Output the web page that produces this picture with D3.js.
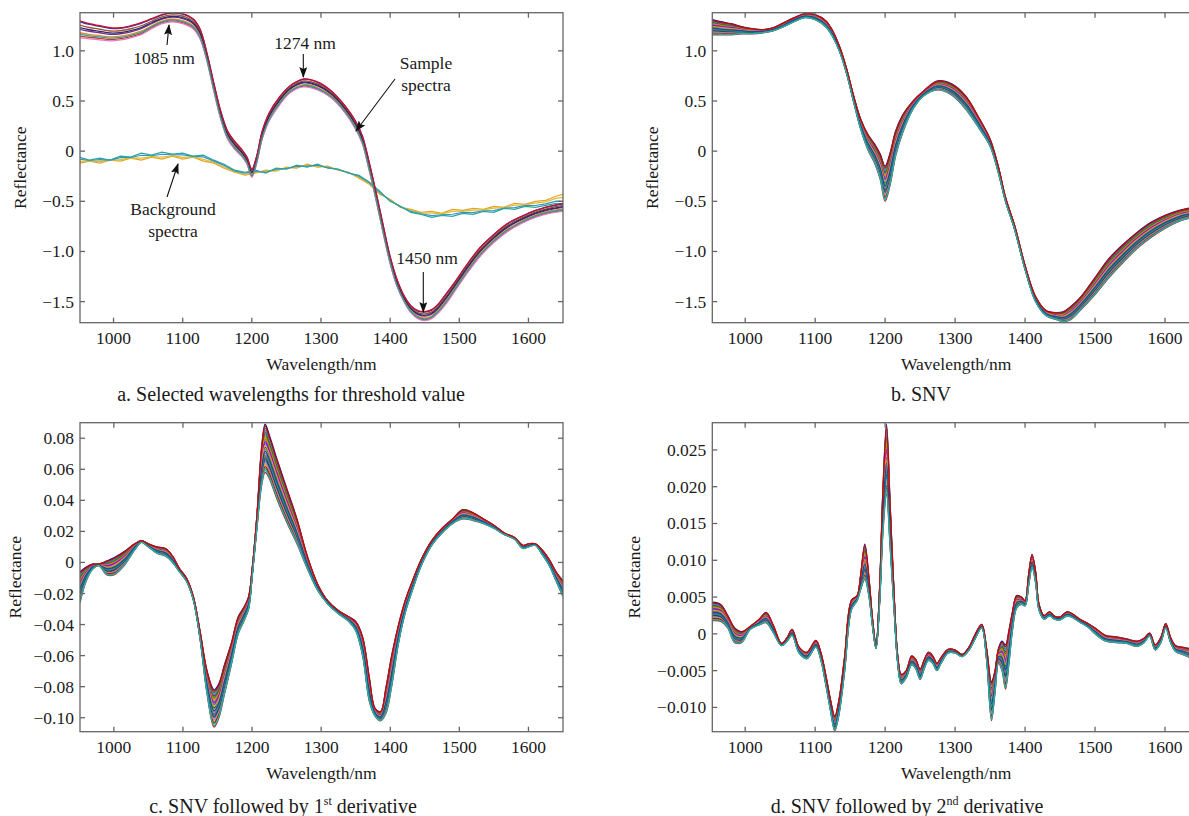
<!DOCTYPE html>
<html>
<head>
<meta charset="UTF-8" />
<title>Spectra</title>
<script src="https://d3js.org/d3.v7.min.js"></script>
<style>
  body { margin: 0; background: #fff; }
</style>
</head>
<body>
<div id="chart"></div>
<script>
// ---- data ----
const xTicks = [1000, 1100, 1200, 1300, 1400, 1500, 1600];
const yTicksAB = [-1.5, -1.0, -0.5, 0, 0.5, 1.0];
const yTicksC = [-0.10, -0.08, -0.06, -0.04, -0.02, 0, 0.02, 0.04, 0.06, 0.08];
const yTicksD = [-0.010, -0.005, 0, 0.005, 0.010, 0.015, 0.020, 0.025];

// a: sample spectra band (upper / lower)
const wlA = [951, 965, 980, 995, 1010, 1025, 1040, 1055, 1070, 1085, 1100, 1115, 1125, 1135, 1145, 1155, 1165, 1175, 1185, 1193, 1200, 1207, 1215, 1225, 1240, 1255, 1275, 1295, 1315, 1335, 1350, 1360, 1370, 1380, 1390, 1400, 1410, 1420, 1430, 1440, 1450, 1460, 1470, 1480, 1495, 1510, 1530, 1550, 1570, 1590, 1610, 1630, 1650];
const aHi = [1.30, 1.27, 1.25, 1.23, 1.23, 1.25, 1.28, 1.32, 1.36, 1.38, 1.37, 1.32, 1.22, 0.98, 0.68, 0.40, 0.20, 0.10, 0.02, -0.06, -0.18, -0.05, 0.20, 0.38, 0.54, 0.65, 0.72, 0.69, 0.60, 0.45, 0.30, 0.15, -0.12, -0.42, -0.74, -1.05, -1.28, -1.44, -1.54, -1.59, -1.60, -1.58, -1.52, -1.43, -1.29, -1.14, -0.96, -0.83, -0.72, -0.65, -0.59, -0.55, -0.52];
const aLo = [1.13, 1.12, 1.11, 1.10, 1.11, 1.13, 1.16, 1.22, 1.27, 1.29, 1.27, 1.22, 1.12, 0.90, 0.60, 0.32, 0.12, 0.02, -0.05, -0.13, -0.26, -0.12, 0.12, 0.30, 0.46, 0.58, 0.64, 0.61, 0.53, 0.38, 0.22, 0.07, -0.20, -0.50, -0.82, -1.12, -1.35, -1.50, -1.61, -1.67, -1.69, -1.67, -1.61, -1.53, -1.38, -1.23, -1.05, -0.91, -0.80, -0.72, -0.66, -0.62, -0.60];
const sampleMix = [0.1, 0.95, 0.5, 0.3, 0.75, 0.0, 0.6, 1.0, 0.2];
const sampleColors = ["#c0392b", "#1f3fbf", "#7b2d8e", "#e8892b", "#a0522d", "#e377c2", "#2b2b6b", "#c8102e", "#3a9a8a"];

// a: background spectra (two groups)
const wlBg = [951, 965, 980, 995, 1010, 1025, 1040, 1055, 1070, 1085, 1100, 1115, 1130, 1145, 1160, 1175, 1190, 1205, 1220, 1235, 1250, 1265, 1280, 1295, 1310, 1325, 1340, 1355, 1370, 1385, 1400, 1415, 1430, 1445, 1460, 1475, 1490, 1505, 1520, 1535, 1550, 1565, 1580, 1595, 1610, 1625, 1640, 1650];
const bgOrange = [-0.06, -0.09, -0.07, -0.09, -0.05, -0.06, -0.02, -0.04, -0.01, -0.03, -0.02, -0.05, -0.04, -0.09, -0.13, -0.19, -0.21, -0.19, -0.22, -0.17, -0.18, -0.14, -0.16, -0.13, -0.17, -0.18, -0.22, -0.24, -0.31, -0.40, -0.50, -0.55, -0.61, -0.63, -0.66, -0.64, -0.65, -0.62, -0.63, -0.60, -0.61, -0.57, -0.58, -0.55, -0.56, -0.54, -0.52, -0.53];
const bgTeal = [-0.12, -0.10, -0.12, -0.09, -0.10, -0.07, -0.09, -0.06, -0.08, -0.05, -0.08, -0.06, -0.10, -0.12, -0.17, -0.21, -0.24, -0.22, -0.19, -0.20, -0.16, -0.17, -0.13, -0.16, -0.15, -0.19, -0.21, -0.27, -0.33, -0.43, -0.48, -0.56, -0.58, -0.61, -0.60, -0.62, -0.58, -0.59, -0.57, -0.58, -0.55, -0.56, -0.52, -0.53, -0.50, -0.49, -0.45, -0.43];
const bgMix = [0.0, 0.3, 0.7, 1.0];
const bgColors = ["#e8a020", "#d8c030", "#3a8fd0", "#2aa59a"];

// b: SNV
const wlB = [953, 965, 980, 995, 1010, 1025, 1040, 1055, 1070, 1085, 1100, 1115, 1125, 1135, 1145, 1155, 1165, 1175, 1185, 1193, 1200, 1207, 1215, 1225, 1240, 1255, 1275, 1295, 1315, 1335, 1350, 1362, 1372, 1385, 1400, 1415, 1430, 1445, 1455, 1465, 1480, 1500, 1520, 1540, 1560, 1580, 1600, 1620, 1640, 1650];
const bHi = [1.31, 1.29, 1.27, 1.24, 1.22, 1.21, 1.23, 1.28, 1.33, 1.37, 1.36, 1.30, 1.20, 1.04, 0.82, 0.55, 0.32, 0.17, 0.07, -0.03, -0.15, -0.02, 0.20, 0.36, 0.50, 0.60, 0.70, 0.67, 0.55, 0.32, 0.12, -0.16, -0.46, -0.74, -1.14, -1.45, -1.59, -1.61, -1.60, -1.55, -1.45, -1.26, -1.07, -0.93, -0.81, -0.71, -0.64, -0.59, -0.56, -0.55];
const bLo = [1.16, 1.16, 1.16, 1.17, 1.17, 1.18, 1.20, 1.24, 1.29, 1.33, 1.31, 1.24, 1.14, 0.99, 0.77, 0.49, 0.22, 0.02, -0.12, -0.28, -0.50, -0.34, -0.05, 0.18, 0.42, 0.55, 0.61, 0.56, 0.42, 0.22, 0.05, -0.22, -0.50, -0.78, -1.18, -1.50, -1.64, -1.68, -1.70, -1.68, -1.58, -1.43, -1.26, -1.11, -0.97, -0.86, -0.77, -0.70, -0.66, -0.64];

// c: SNV + 1st derivative
const wlC = [951, 960, 970, 978, 990, 1000, 1015, 1030, 1040, 1050, 1062, 1075, 1085, 1095, 1105, 1115, 1125, 1135, 1145, 1152, 1160, 1170, 1180, 1188, 1195, 1200, 1207, 1214, 1219, 1225, 1235, 1250, 1265, 1280, 1295, 1310, 1325, 1340, 1350, 1360, 1370, 1378, 1386, 1394, 1402, 1412, 1422, 1432, 1445, 1460, 1475, 1490, 1505, 1520, 1535, 1550, 1565, 1580, 1592, 1600, 1610, 1620, 1630, 1640, 1650];
const cHi = [-0.006, -0.003, -0.001, -0.001, 0.001, 0.003, 0.007, 0.012, 0.014, 0.012, 0.010, 0.009, 0.004, -0.004, -0.010, -0.022, -0.045, -0.070, -0.082, -0.078, -0.066, -0.052, -0.035, -0.029, -0.022, -0.005, 0.030, 0.075, 0.089, 0.082, 0.068, 0.048, 0.028, 0.004, -0.014, -0.025, -0.031, -0.035, -0.038, -0.048, -0.075, -0.094, -0.096, -0.080, -0.060, -0.040, -0.024, -0.012, 0.002, 0.014, 0.022, 0.028, 0.034, 0.032, 0.028, 0.024, 0.019, 0.016, 0.011, 0.012, 0.012, 0.008, 0.002, -0.006, -0.012];
const cLo = [-0.026, -0.012, -0.004, -0.002, -0.008, -0.008, -0.002, 0.008, 0.013, 0.010, 0.006, 0.004, 0.000, -0.006, -0.012, -0.024, -0.050, -0.085, -0.106, -0.100, -0.085, -0.066, -0.046, -0.038, -0.030, -0.010, 0.022, 0.050, 0.058, 0.054, 0.042, 0.026, 0.012, -0.004, -0.018, -0.027, -0.033, -0.038, -0.044, -0.060, -0.090, -0.099, -0.102, -0.097, -0.080, -0.052, -0.032, -0.018, -0.002, 0.011, 0.019, 0.025, 0.028, 0.027, 0.025, 0.022, 0.018, 0.015, 0.009, 0.010, 0.011, 0.005, -0.002, -0.012, -0.022];

// d: SNV + 2nd derivative
const wlD = [953, 965, 975, 985, 995, 1007, 1020, 1030, 1040, 1052, 1060, 1067, 1077, 1088, 1101, 1108, 1115, 1122, 1128, 1134, 1142, 1152, 1160, 1165, 1171, 1177, 1182, 1187, 1192, 1197, 1202, 1207, 1213, 1218, 1223, 1230, 1238, 1244, 1250, 1256, 1262, 1268, 1274, 1280, 1290, 1300, 1310, 1320, 1328, 1338, 1345, 1352, 1357, 1362, 1367, 1372, 1377, 1382, 1388, 1395, 1400, 1405, 1410, 1415, 1420, 1427, 1435, 1442, 1450, 1460, 1468, 1478, 1490, 1500, 1515, 1530, 1545, 1560, 1570, 1578, 1586, 1594, 1601, 1608, 1615, 1625, 1635, 1650];
const dHi = [0.0043, 0.0040, 0.0025, 0.0008, 0.0003, 0.0010, 0.0020, 0.0029, 0.0012, -0.0013, -0.0005, 0.0006, -0.0018, -0.0025, -0.0009, -0.0025, -0.0055, -0.0090, -0.0112, -0.0090, -0.0032, 0.0046, 0.0052, 0.0080, 0.0122, 0.0075, 0.0020, -0.0015, 0.0060, 0.0200, 0.0285, 0.0180, 0.0050, -0.0030, -0.0055, -0.0050, -0.0030, -0.0035, -0.0048, -0.0035, -0.0025, -0.0030, -0.0040, -0.0032, -0.0021, -0.0022, -0.0028, -0.0018, -0.0002, 0.0013, -0.0020, -0.0065, -0.0050, -0.0020, -0.0010, -0.0015, 0.0005, 0.0030, 0.0052, 0.0050, 0.0045, 0.0080, 0.0108, 0.0085, 0.0040, 0.0025, 0.0030, 0.0024, 0.0023, 0.0030, 0.0027, 0.0020, 0.0014, 0.0008, -0.0002, -0.0004, -0.0007, -0.0010, -0.0006, 0.0001, -0.0015, -0.0005, 0.0014, -0.0005, -0.0016, -0.0018, -0.0020, -0.0025];
const dLo = [0.0018, 0.0017, 0.0008, -0.0012, -0.0012, 0.0006, 0.0012, 0.0015, 0.0002, -0.0016, -0.0010, -0.0002, -0.0026, -0.0034, -0.0018, -0.0035, -0.0068, -0.0105, -0.0132, -0.0110, -0.0052, 0.0033, 0.0045, 0.0060, 0.0074, 0.0050, 0.0010, -0.0020, 0.0040, 0.0140, 0.0190, 0.0120, 0.0030, -0.0040, -0.0068, -0.0060, -0.0042, -0.0048, -0.0062, -0.0047, -0.0036, -0.0040, -0.0050, -0.0040, -0.0026, -0.0026, -0.0031, -0.0022, -0.0008, 0.0008, -0.0035, -0.0118, -0.0080, -0.0040, -0.0050, -0.0075, -0.0040, 0.0005, 0.0035, 0.0040, 0.0038, 0.0065, 0.0090, 0.0070, 0.0032, 0.0020, 0.0024, 0.0020, 0.0019, 0.0024, 0.0022, 0.0016, 0.0009, 0.0000, -0.0010, -0.0012, -0.0013, -0.0017, -0.0012, -0.0003, -0.0022, -0.0012, 0.0008, -0.0012, -0.0024, -0.0028, -0.0032, -0.0035];

// position of each spectrum inside the band, and its colour
const bandMix = [1.0, 0.0, 0.92, 0.08, 0.84, 0.16, 0.76, 0.24, 0.68, 0.32, 0.6, 0.4, 0.52, 0.48, 0.88, 0.12, 0.8, 0.2, 0.72, 0.28, 0.64, 0.36, 0.56, 0.44, 0.96, 0.04];
const bandColors = ["#1a1a8c", "#b3261e", "#2f8f2f", "#0fa3b1", "#7a1f7a", "#c8b400", "#e07020", "#2b5fd9", "#556b2f", "#8b4513", "#00a07a", "#d43f8d", "#333333", "#6aa84f", "#3d85c6", "#a61c00", "#38761d", "#c27ba0", "#bf9000", "#134f5c", "#9900ff", "#45818e", "#e69138", "#0b5394", "#cc0000", "#20b2aa"];

// ---- drawing ----
const W = 1189, H = 816;
const FS = 17.5;     // ticks, axis titles, notes
const CAP = 20;      // panel captions
const FONT = '"Liberation Serif"';
const svg = d3.select("#chart").append("svg")
  .attr("width", W).attr("height", H)
  .style("font-family", FONT);

const defs = svg.append("defs");
defs.append("marker")
  .attr("id", "arrow")
  .attr("markerUnits", "userSpaceOnUse")
  .attr("markerWidth", 11).attr("markerHeight", 8)
  .attr("refX", 10).attr("refY", 4)
  .attr("orient", "auto")
  .append("path").attr("d", "M0,0 L11,4 L0,8 L2,4 Z").attr("fill", "#111");

function band(wl, hi, lo, w) {
  return wl.map((n, i) => ({ x: n, y: lo[i] + w * (hi[i] - lo[i]) }));
}

function label(sel, size) {
  return sel.append("text").style("font-family", FONT).attr("font-size", size || FS).attr("fill", "#1a1a1a");
}

function panel(p) {
  const x = d3.scaleLinear().domain(p.xDom).range([p.left, p.right]);
  const y = d3.scaleLinear().domain(p.yDom).range([p.bottom, p.top]);
  const g = svg.append("g");

  defs.append("clipPath").attr("id", "clip" + p.id)
    .append("rect").attr("x", p.left).attr("y", p.top)
    .attr("width", p.right - p.left).attr("height", p.bottom - p.top);

  const lines = g.append("g").attr("clip-path", `url(#clip${p.id})`);
  const smooth = d3.line().x(d => x(d.x)).y(d => y(d.y)).curve(d3.curveCatmullRom.alpha(0.5));
  const rough = d3.line().x(d => x(d.x)).y(d => y(d.y));
  p.series.forEach(s => {
    lines.append("path")
      .attr("d", (s.rough ? rough : smooth)(s.pts))
      .attr("fill", "none")
      .attr("stroke", s.color)
      .attr("stroke-width", s.width || 1.3);
  });

  // axes: box with inward ticks on all sides
  const ax = g.append("g").attr("stroke", "#666").attr("stroke-width", 1.3);
  ax.append("rect").attr("x", p.left).attr("y", p.top)
    .attr("width", p.right - p.left).attr("height", p.bottom - p.top).attr("fill", "none");
  xTicks.forEach(t => {
    ax.append("line").attr("x1", x(t)).attr("x2", x(t)).attr("y1", p.bottom).attr("y2", p.bottom - 5);
    ax.append("line").attr("x1", x(t)).attr("x2", x(t)).attr("y1", p.top).attr("y2", p.top + 5);
  });
  p.yTicks.forEach(t => {
    ax.append("line").attr("x1", p.left).attr("x2", p.left + 5).attr("y1", y(t)).attr("y2", y(t));
    ax.append("line").attr("x1", p.right).attr("x2", p.right - 5).attr("y1", y(t)).attr("y2", y(t));
  });

  const fmt = d3.format(p.fmt);
  xTicks.forEach(t => {
    label(g).attr("x", x(t)).attr("y", p.bottom + 21).attr("text-anchor", "middle").text(t);
  });
  p.yTicks.forEach(t => {
    label(g).attr("x", p.left - 6).attr("y", y(t) + 6).attr("text-anchor", "end")
      .text(t === 0 ? "0" : fmt(t));
  });

  label(g).attr("x", (p.left + p.right) / 2).attr("y", p.bottom + 47)
    .attr("text-anchor", "middle").text("Wavelength/nm");
  label(g).attr("transform", `translate(${p.yLabelX},${(p.top + p.bottom) / 2}) rotate(-90)`)
    .attr("text-anchor", "middle").text("Reflectance");

  const cap = label(g, CAP).attr("x", p.capX).attr("y", p.capY).attr("text-anchor", "middle");
  cap.append("tspan").text(p.caption[0]);
  if (p.caption[1]) {
    cap.append("tspan").attr("dy", -8).attr("font-size", 12).text(p.caption[1]);
    cap.append("tspan").attr("dy", 8).text(p.caption[2]);
  }
  return { x, y, g };
}

function bandSeries(wl, hi, lo) {
  return bandMix.map((w, i) => ({ pts: band(wl, hi, lo, w), color: bandColors[i % bandColors.length], width: 1.3 }));
}

// panel a
const seriesA = [];
bgMix.forEach((w, i) => seriesA.push({ pts: band(wlBg, bgOrange, bgTeal, w), color: bgColors[i], width: 1.2, rough: true }));
sampleMix.forEach((w, i) => seriesA.push({ pts: band(wlA, aHi, aLo, w), color: sampleColors[i], width: 1.3 }));

const pa = panel({
  id: "a", left: 80, right: 563, top: 12.7, bottom: 322.7,
  xDom: [951.5, 1650], yDom: [-1.71, 1.38], yTicks: yTicksAB, fmt: ".1f",
  series: seriesA, yLabelX: 26, capX: 291, capY: 401,
  caption: ["a. Selected wavelengths for threshold value"]
});

panel({
  id: "b", left: 712.3, right: 1200, top: 12.7, bottom: 322.7,
  xDom: [953, 1650], yDom: [-1.71, 1.38], yTicks: yTicksAB, fmt: ".1f",
  series: bandSeries(wlB, bHi, bLo), yLabelX: 658, capX: 921, capY: 401,
  caption: ["b. SNV"]
});

panel({
  id: "c", left: 80, right: 563, top: 422.7, bottom: 731.7,
  xDom: [951, 1650], yDom: [-0.109, 0.090], yTicks: yTicksC, fmt: ".2f",
  series: bandSeries(wlC, cHi, cLo), yLabelX: 21, capX: 283, capY: 813,
  caption: ["c. SNV followed by 1", "st", " derivative"]
});

panel({
  id: "d", left: 712.3, right: 1200, top: 422.7, bottom: 731.7,
  xDom: [953, 1650], yDom: [-0.0133, 0.0287], yTicks: yTicksD, fmt: ".3f",
  series: bandSeries(wlD, dHi, dLo), yLabelX: 640, capX: 907, capY: 813,
  caption: ["d. SNV followed by 2", "nd", " derivative"]
});

// annotations on panel a
const notes = [
  { lines: ["1085 nm"], tx: 164, ty: 64, from: [167, 45], to: [169, 25] },
  { lines: ["1274 nm"], tx: 305, ty: 49, from: [303.3, 54], to: [303.3, 77] },
  { lines: ["Sample", "spectra"], tx: 426, ty: 69, from: [395, 79], to: [356, 131] },
  { lines: ["Background", "spectra"], tx: 173, ty: 215, from: [167, 197], to: [178, 164] },
  { lines: ["1450 nm"], tx: 427, ty: 264, from: [423.3, 272], to: [423.3, 312] }
];
notes.forEach(n => {
  n.lines.forEach((t, i) => {
    label(pa.g).attr("x", n.tx).attr("y", n.ty + i * 21.5).attr("text-anchor", "middle").text(t);
  });
  pa.g.append("line")
    .attr("x1", n.from[0]).attr("y1", n.from[1]).attr("x2", n.to[0]).attr("y2", n.to[1])
    .attr("stroke", "#111").attr("stroke-width", 1.1).attr("marker-end", "url(#arrow)");
});
</script>
</body>
</html>
